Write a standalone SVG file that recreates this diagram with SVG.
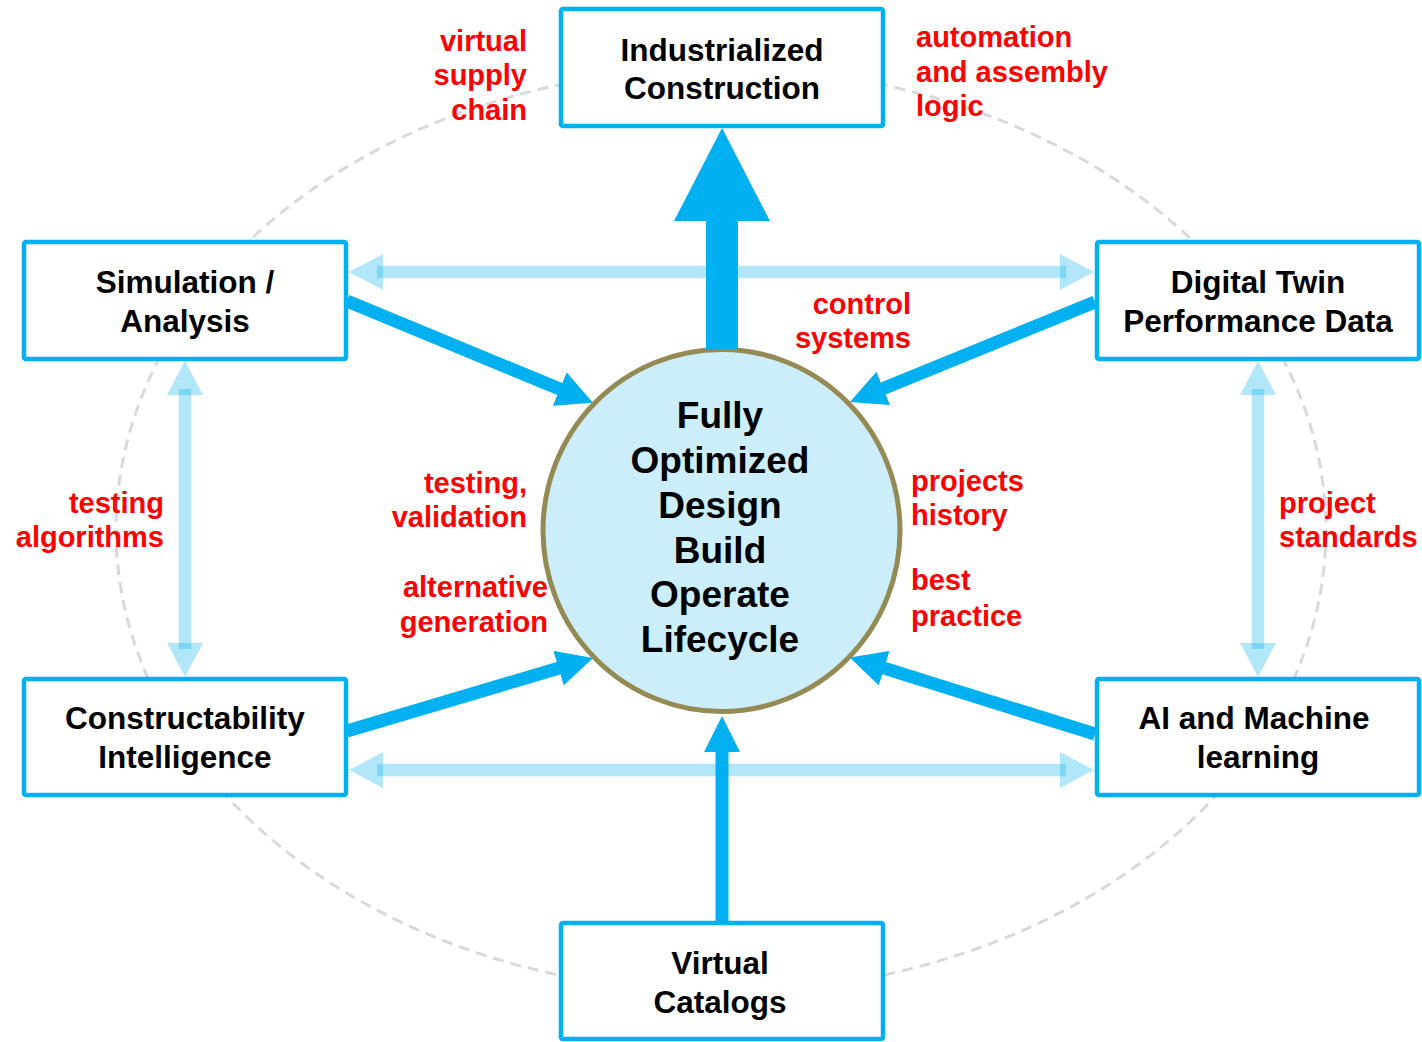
<svg xmlns="http://www.w3.org/2000/svg" width="1422" height="1042" viewBox="0 0 1422 1042">
  <style>
    .box { fill: #FFFFFF; stroke: #00B0F0; stroke-width: 4.5; }
    .bt { font-family: "Liberation Sans", Arial, sans-serif; font-weight: bold; font-size: 31.5px; fill: #000000; text-anchor: middle; }
    .ct { font-family: "Liberation Sans", Arial, sans-serif; font-weight: bold; font-size: 37px; fill: #000000; text-anchor: middle; }
    .lab { font-family: "Liberation Sans", Arial, sans-serif; font-weight: bold; font-size: 29px; fill: #FF0000; }
    .r { text-anchor: end; }
    .dark { stroke: #00B0F0; stroke-width: 13; fill: none; marker-end: url(#dh); }
    .light { stroke: #00B0F0; stroke-opacity: 0.3; stroke-width: 12.5; fill: none; marker-start: url(#lh); marker-end: url(#lh); }
  </style>
  <defs>
    <marker id="dh" markerUnits="userSpaceOnUse" viewBox="0 0 36 36" markerWidth="36" markerHeight="36" refX="6" refY="18" orient="auto">
      <path d="M0,0 L36,18 L0,36 Z" fill="#00B0F0"/>
    </marker>
    <marker id="lh" markerUnits="userSpaceOnUse" viewBox="0 0 34 36" markerWidth="34" markerHeight="36" refX="6" refY="18" orient="auto-start-reverse">
      <path d="M0,0 L34,18 L0,36 Z" fill="#00B0F0" fill-opacity="0.3"/>
    </marker>
  </defs>
  <rect width="1422" height="1042" fill="#FFFFFF"/>

  <ellipse id="orbit" cx="721" cy="530" rx="605" ry="462" fill="none" stroke="#D9D9D9" stroke-width="3" stroke-dasharray="11 7"/>

  <g id="hub">
    <ellipse cx="721.5" cy="530.5" rx="178.5" ry="181" fill="#CCEEFA" stroke="#948A54" stroke-width="5"/>
    <text class="ct" x="720" y="428">Fully</text>
    <text class="ct" x="720" y="473">Optimized</text>
    <text class="ct" x="720" y="518">Design</text>
    <text class="ct" x="720" y="563">Build</text>
    <text class="ct" x="720" y="607">Operate</text>
    <text class="ct" x="720" y="652">Lifecycle</text>
  </g>

  <g id="connectors">
    <path d="M706,349 L706,221 L674,221 L722,128 L770,221 L738,221 L738,349 Z" fill="#00B0F0"/>
    <line class="light" x1="377" y1="272" x2="1066" y2="272"/>
    <line class="light" x1="377" y1="770" x2="1066" y2="770"/>
    <line class="light" x1="185" y1="389" x2="185" y2="649"/>
    <line class="light" x1="1258" y1="389" x2="1258" y2="649"/>
    <line class="dark" x1="347" y1="301" x2="565.3" y2="391.3"/>
    <line class="dark" x1="1095" y1="302" x2="877.7" y2="390.7"/>
    <line class="dark" x1="347" y1="731" x2="564.3" y2="666.5"/>
    <line class="dark" x1="1095" y1="734" x2="878.4" y2="666.4"/>
    <line class="dark" x1="722" y1="923" x2="722" y2="746"/>
  </g>

  <g id="industrialized">
    <rect class="box" x="561" y="9" width="322" height="117" rx="2"/>
    <text class="bt" x="722" y="61">Industrialized</text>
    <text class="bt" x="722" y="99">Construction</text>
  </g>
  <g id="simulation">
    <rect class="box" x="24" y="242" width="322" height="117" rx="2"/>
    <text class="bt" x="185" y="293">Simulation /</text>
    <text class="bt" x="185" y="332">Analysis</text>
  </g>
  <g id="digital-twin">
    <rect class="box" x="1097" y="242" width="322" height="117" rx="2"/>
    <text class="bt" x="1258" y="293">Digital Twin</text>
    <text class="bt" x="1258" y="332">Performance Data</text>
  </g>
  <g id="constructability">
    <rect class="box" x="24" y="679" width="322" height="116" rx="2"/>
    <text class="bt" x="185" y="729">Constructability</text>
    <text class="bt" x="185" y="768">Intelligence</text>
  </g>
  <g id="ai">
    <rect class="box" x="1097" y="679" width="322" height="116" rx="2"/>
    <text class="bt" x="1254" y="729">AI and Machine</text>
    <text class="bt" x="1258" y="768">learning</text>
  </g>
  <g id="virtual-catalogs">
    <rect class="box" x="561" y="923" width="322" height="116" rx="2"/>
    <text class="bt" x="720" y="974">Virtual</text>
    <text class="bt" x="720" y="1013">Catalogs</text>
  </g>

  <g id="labels">
    <text class="lab r" x="527" y="51">virtual</text>
    <text class="lab r" x="527" y="85">supply</text>
    <text class="lab r" x="527" y="120">chain</text>
    <text class="lab" x="916" y="47">automation</text>
    <text class="lab" x="916" y="82">and assembly</text>
    <text class="lab" x="916" y="116">logic</text>
    <text class="lab r" x="911" y="314">control</text>
    <text class="lab r" x="911" y="348">systems</text>
    <text class="lab r" x="527" y="493">testing,</text>
    <text class="lab r" x="527" y="527">validation</text>
    <text class="lab r" x="548" y="597">alternative</text>
    <text class="lab r" x="548" y="632">generation</text>
    <text class="lab" x="911" y="491">projects</text>
    <text class="lab" x="911" y="525">history</text>
    <text class="lab" x="911" y="590">best</text>
    <text class="lab" x="911" y="626">practice</text>
    <text class="lab r" x="164" y="513">testing</text>
    <text class="lab r" x="164" y="547">algorithms</text>
    <text class="lab" x="1279" y="513">project</text>
    <text class="lab" x="1279" y="547">standards</text>
  </g>
</svg>
